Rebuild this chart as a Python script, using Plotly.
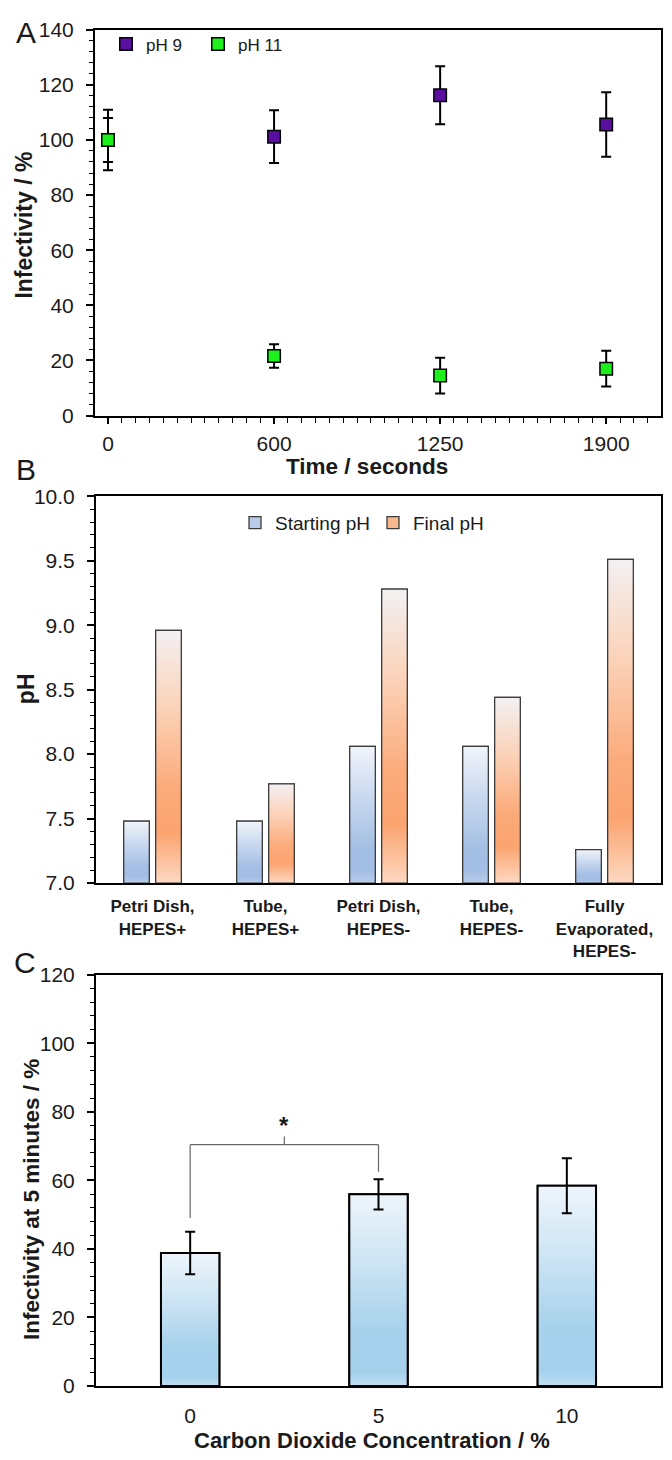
import plotly.graph_objects as go

# ---------------- Data ----------------
# Panel A: infectivity over time
time_s = [0, 600, 1200, 1800]
time_ticklabels = ["0", "600", "1250", "1900"]
ph9_inf = [100.0, 101.2, 116.2, 105.6]
ph9_err = [11.0, 9.6, 10.5, 11.7]
ph11_inf = [100.0, 21.6, 14.5, 17.0]
ph11_err = [8.0, 4.3, 6.5, 6.5]

# Panel B: pH of conditions
conditions = ["Petri Dish,<br>HEPES+", "Tube,<br>HEPES+", "Petri Dish,<br>HEPES-",
              "Tube,<br>HEPES-", "Fully<br>Evaporated,<br>HEPES-"]
start_ph = [7.48, 7.48, 8.06, 8.06, 7.26]
final_ph = [8.96, 7.77, 9.28, 8.44, 9.51]

# Panel C: infectivity at 5 minutes vs CO2
co2_pct = ["0", "5", "10"]
inf5 = [38.8, 55.9, 58.4]
inf5_err = [6.2, 4.4, 8.0]
sig_pair = [0, 1]
sig_bracket_y = 70.4
sig_leg_bottom = [49.0, 62.5]

# ---------------- Style helpers ----------------
W, H = 672, 1460
FONT = "Arial, Liberation Sans, sans-serif"
TXT = "#1a1a1a"


def px(x):
    return x / W


def py(y):
    return 1 - y / H


B_MIN, B_MAX = 7.0, 10.0
B_W = 0.227
B_OFF_S, B_OFF_F = -0.255, 0.028
C_W = 0.31

blue_cs = [[0, '#b8cdea'], [0.1, '#a3bee4'], [0.25, '#a4bfe4'], [0.65, '#cbdaf0'], [1, '#f1f4fa']]
orange_cs = [[0, '#fdd9c2'], [0.08, '#fcc3a0'], [0.2, '#fba470'], [0.38, '#fbab7b'],
             [0.7, '#fbd3ba'], [1, '#f3f0f2']]
cblue_cs = [[0, '#c3e0f2'], [0.07, '#a6d1ec'], [0.3, '#a8d2ec'], [0.7, '#d2e7f5'], [1, '#eef5fb']]

fig = go.Figure()

# ---------------- Panel A ----------------
fig.add_trace(go.Scatter(
    x=time_s, y=ph9_inf, mode='markers', name='pH 9',
    error_y=dict(type='data', array=ph9_err, color='black', thickness=2, width=5),
    marker=dict(symbol='square', size=12.5, color='#5a0fa0', line=dict(color='black', width=1.5)),
    xaxis='x', yaxis='y', legend='legend'))
fig.add_trace(go.Scatter(
    x=time_s, y=ph11_inf, mode='markers', name='pH 11',
    error_y=dict(type='data', array=ph11_err, color='black', thickness=2, width=5),
    marker=dict(symbol='square', size=12.5, color='#1ef01e', line=dict(color='black', width=1.5)),
    xaxis='x', yaxis='y', legend='legend'))

# ---------------- Panel B ----------------
b_idx = list(range(len(conditions)))
series_b = [("Starting pH", start_ph, B_OFF_S, '#b7cbe9', blue_cs),
            ("Final pH", final_ph, B_OFF_F, '#f9b98e', orange_cs)]
for name, vals, off, col, cs in series_b:
    fig.add_trace(go.Bar(
        x=b_idx, y=vals, offset=off, width=B_W, name=name,
        marker=dict(color=col, line=dict(color='#3c3c3c', width=1.3)),
        xaxis='x2', yaxis='y2', legend='legend2'))
for name, vals, off, col, cs in series_b:
    for i, v in enumerate(vals):
        x0 = b_idx[i] + off
        x1 = x0 + B_W
        fig.add_trace(go.Scatter(
            x=[x0, x1, x1, x0, x0], y=[B_MIN, B_MIN, v, v, B_MIN],
            mode='lines', fill='toself',
            fillgradient=dict(type='vertical', colorscale=cs),
            line=dict(color='#3c3c3c', width=1.3),
            showlegend=False, hoverinfo='skip', xaxis='x2', yaxis='y2'))

# ---------------- Panel C ----------------
c_idx = list(range(len(co2_pct)))
fig.add_trace(go.Bar(
    x=c_idx, y=inf5, width=C_W, name='Infectivity',
    marker=dict(color='#b9dbf0', line=dict(color='black', width=2)),
    showlegend=False, xaxis='x3', yaxis='y3'))
for i, v in enumerate(inf5):
    x0 = c_idx[i] - C_W / 2
    x1 = x0 + C_W
    fig.add_trace(go.Scatter(
        x=[x0, x1, x1, x0, x0], y=[0, 0, v, v, 0],
        mode='lines', fill='toself',
        fillgradient=dict(type='vertical', colorscale=cblue_cs),
        line=dict(color='black', width=2),
        showlegend=False, hoverinfo='skip', xaxis='x3', yaxis='y3'))
fig.add_trace(go.Scatter(
    x=c_idx, y=inf5, mode='markers',
    marker=dict(size=1, color='rgba(0,0,0,0)'),
    error_y=dict(type='data', array=inf5_err, color='black', thickness=2, width=5),
    showlegend=False, hoverinfo='skip', xaxis='x3', yaxis='y3'))

# significance bracket
br_col = '#666666'
shapes = [
    dict(type='line', xref='x3', yref='y3', x0=sig_pair[0], x1=sig_pair[0],
         y0=sig_leg_bottom[0], y1=sig_bracket_y, line=dict(color=br_col, width=1.2)),
    dict(type='line', xref='x3', yref='y3', x0=sig_pair[0], x1=sig_pair[1],
         y0=sig_bracket_y, y1=sig_bracket_y, line=dict(color=br_col, width=1.2)),
    dict(type='line', xref='x3', yref='y3', x0=sig_pair[1], x1=sig_pair[1],
         y0=sig_bracket_y, y1=sig_leg_bottom[1], line=dict(color=br_col, width=1.2)),
    dict(type='line', xref='x3', yref='y3', x0=sum(sig_pair) / 2, x1=sum(sig_pair) / 2,
         y0=sig_bracket_y, y1=sig_bracket_y + 2.4, line=dict(color=br_col, width=1.2)),
]

# ---------------- Axes ----------------
tickfont = dict(family=FONT, size=21, color=TXT)
common = dict(showgrid=False, zeroline=False, showline=True, linecolor='black',
              linewidth=2, mirror=True)

xdomA = [px(95), px(661)]
xdomBC = [px(96), px(661)]

fig.update_layout(
    xaxis=dict(domain=xdomA, anchor='y', range=[-47, 1998], tickmode='array',
               tickvals=time_s, ticktext=time_ticklabels, ticks='outside', ticklen=6,
               tickwidth=1.5, tickcolor='black', ticklabelstandoff=2, tickfont=tickfont,
               minor=dict(tickmode='linear', tick0=0, dtick=50, ticks='outside',
                          ticklen=5, tickwidth=1.2, tickcolor='black'), **common),
    yaxis=dict(domain=[py(410), py(18)], anchor='x', range=[0, 140], dtick=20,
               ticks='outside', ticklen=7, tickwidth=1.5, tickcolor='black',
               ticklabelstandoff=8, tickfont=tickfont,
               minor=dict(dtick=4, ticks='outside', ticklen=4, tickwidth=1.2,
                          tickcolor='black'), **common),
    xaxis2=dict(domain=xdomBC, anchor='y2', range=[-0.5, 4.5], tickmode='array',
                tickvals=b_idx, ticktext=conditions, ticks='', ticklabelstandoff=7,
                tickfont=dict(family=FONT, size=17, color=TXT, weight='bold'), **common),
    yaxis2=dict(domain=[py(885), py(492)], anchor='x2', range=[B_MIN, B_MAX], dtick=0.5,
                tickformat='.1f', ticks='outside', ticklen=7, tickwidth=1.5,
                tickcolor='black', ticklabelstandoff=8, tickfont=tickfont,
                minor=dict(dtick=0.1, ticks='outside', ticklen=4, tickwidth=1.2,
                           tickcolor='black'), **common),
    xaxis3=dict(domain=xdomBC, anchor='y3', range=[-0.5, 2.5], tickmode='array',
                tickvals=c_idx, ticktext=co2_pct, ticks='', ticklabelstandoff=10,
                tickfont=tickfont, **common),
    yaxis3=dict(domain=[py(1396), py(978)], anchor='x3', range=[0, 120], dtick=20,
                ticks='outside', ticklen=7, tickwidth=1.5, tickcolor='black',
                ticklabelstandoff=8, tickfont=tickfont,
                minor=dict(dtick=4, ticks='outside', ticklen=4, tickwidth=1.2,
                           tickcolor='black'), **common),
)

# ---------------- Legends ----------------
fig.update_layout(
    legend=dict(orientation='h', x=px(106), y=py(33), xanchor='left', yanchor='middle',
                font=dict(family=FONT, size=17, color=TXT), bgcolor='rgba(0,0,0,0)',
                entrywidth=47, entrywidthmode='pixels', tracegroupgap=0),
    legend2=dict(orientation='h', x=px(235), y=py(519), xanchor='left', yanchor='middle',
                 font=dict(family=FONT, size=19, color=TXT), bgcolor='rgba(0,0,0,0)',
                 entrywidth=93, entrywidthmode='pixels', tracegroupgap=0),
)

# ---------------- Annotations ----------------
def ann(text, x, y, size, bold=False, angle=0):
    return dict(text=text, x=px(x), y=py(y), xref='paper', yref='paper',
                showarrow=False, textangle=angle, xanchor='center', yanchor='middle',
                font=dict(family=FONT, size=size, color=TXT,
                          weight='bold' if bold else 'normal'))


annotations = [
    ann("A", 26, 21, 30), ann("B", 26, 465, 30), ann("C", 25, 966, 30),
    ann("Infectivity / %", 24, 217, 23, True, -90),
    ann("Time / seconds", 367, 462, 22.5, True),
    ann("pH", 26, 688, 23, True, -90),
    ann("Infectivity at 5 minutes / %", 32, 1207, 22.5, True, -90),
    ann("Carbon Dioxide Concentration / %", 372, 1451, 22, True),
    dict(text="*", x=sum(sig_pair) / 2, y=sig_bracket_y + 5.5, xref='x3', yref='y3',
         showarrow=False, font=dict(family=FONT, size=24, color=TXT, weight='bold')),
]

fig.update_layout(
    width=W, height=H, autosize=False,
    margin=dict(l=0, r=0, t=0, b=0),
    paper_bgcolor='white', plot_bgcolor='white',
    barmode='overlay', shapes=shapes, annotations=annotations,
    font=dict(family=FONT, color=TXT), hovermode=False,
)

fig.write_html("out.html", config={'displayModeBar': False},
               post_script="document.body.style.margin='0';document.body.style.overflow='hidden';")
